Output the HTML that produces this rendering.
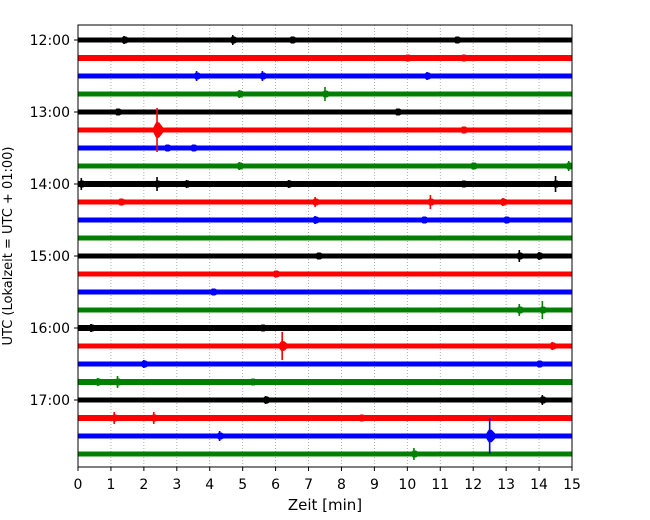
<!DOCTYPE html>
<html><head><meta charset="utf-8"><style>
body{margin:0;background:#fff}
svg{display:block;font-family:"DejaVu Sans","Liberation Sans",sans-serif}
</style></head><body>
<svg id="chart" width="650" height="520" viewBox="0 0 650 520">
<defs><clipPath id="pc"><rect x="78" y="25" width="494" height="442"/></clipPath></defs>
<g id="grid"></g>
<g id="traces" clip-path="url(#pc)"></g>
<rect x="78" y="25" width="494" height="442" fill="none" stroke="#000" stroke-width="1"/>
<g id="axes"></g>
<text x="325" y="510" font-size="15" text-anchor="middle">Zeit  [min]</text>
<text transform="translate(12,246) rotate(-90)" font-size="13" text-anchor="middle">UTC (Lokalzeit = UTC + 01:00)</text>
</svg>
<script>
const xTicks=[0,1,2,3,4,5,6,7,8,9,10,11,12,13,14,15];
const yTickLabels=["12:00","13:00","14:00","15:00","16:00","17:00"];
const traceColors=["#000000","#ff0000","#0000ff","#008000"];
const traceCount=24;
const noiseAmp=[2.5,3,2.5,2.5,2.5,2.5,2.5,2.5,3,2.5,2.5,2.5,2.5,2.5,2.5,2.5,3,2.5,2.5,3,2.5,3,2.5,2.5];
const evTrace=[0,0,0,0,1,1,2,2,2,3,3,4,4,5,5,6,6,7,7,7,8,8,8,8,8,8,9,9,9,9,10,10,10,12,12,12,13,14,15,15,16,16,17,17,18,18,19,19,19,20,20,21,21,21,22,22,23];
const evMinute=[1.4,4.7,6.5,11.5,10,11.7,3.6,5.6,10.6,7.5,4.9,1.2,9.7,2.4,11.7,3.5,2.7,4.9,14.9,12,0.1,2.4,3.3,6.4,11.7,14.5,7.2,10.7,12.9,1.3,7.2,10.5,13,13.4,14.0,7.3,6,4.1,13.4,14.1,0.4,5.6,6.2,14.4,2.0,14,1.2,0.6,5.3,5.7,14.1,1.1,2.3,8.6,4.3,12.5,10.2];
const evAmp=[4,5,3,3,3,3,5,5,4,7,4,3,3,22,3,3,3,4,5,3,6,7,4,4,3,8,5,7,4,3,4,3,3,6,4,3,3,3,6,9,4,3,14,4,4,3,6,4,3,4,5,6,6,3,5,18,6];
const NS="http://www.w3.org/2000/svg";
const X0=78,X1=572,Y0=40,DY=18;
const xs=m=>X0+(m-xTicks[0])/(xTicks[xTicks.length-1]-xTicks[0])*(X1-X0);
const ys=i=>Y0+i*DY;
function mk(t,a,p){const e=document.createElementNS(NS,t);for(const k in a)e.setAttribute(k,a[k]);p.appendChild(e);return e;}
const grid=document.getElementById('grid'),tr=document.getElementById('traces'),ax=document.getElementById('axes');
xTicks.forEach(v=>{
 const l=mk('line',{x1:xs(v),x2:xs(v),y1:25,y2:467,stroke:'#999','stroke-width':0.8,'stroke-dasharray':'1,2'},grid);
 
 
 const t=mk('line',{x1:xs(v),x2:xs(v),y1:467,y2:471,stroke:'#000'},ax);
 
 
 const tx=mk('text',{x:xs(v),y:489,'font-size':14,'text-anchor':'middle'},ax);tx.textContent=v;
 
 
});
yTickLabels.forEach((s,k)=>{
 const y=ys(k*4);
 const t=mk('line',{x1:74,x2:78,y1:y,y2:y,stroke:'#000'},ax);
 
 
 const tx=mk('text',{x:70,y:y+5,'font-size':14,'text-anchor':'end'},ax);tx.textContent=s;
 
 
});
for(let i=0;i<traceCount;i++){
 const c=traceColors[i%4],a=noiseAmp[i];
 const r=mk('rect',{x:X0,y:ys(i)-a,width:X1-X0,height:2*a,fill:c},tr);
 
 
}
evMinute.forEach((m,k)=>{
 const i=evTrace[k],c=traceColors[i%4],a=evAmp[k],x=xs(m),y=ys(i);
 const g=mk('g',{},tr);
 
 
 mk('line',{x1:x,x2:x,y1:y-a,y2:y+a,stroke:c,'stroke-width':1.6},g);
 const h=Math.max(3.5,a*0.35);
 mk('polygon',{points:`${x-5},${y} ${x-1},${y-h} ${x+2},${y-h} ${x+8},${y} ${x+2},${y+h} ${x-1},${y+h}`,fill:c},g);
});
</script>
</body></html>
